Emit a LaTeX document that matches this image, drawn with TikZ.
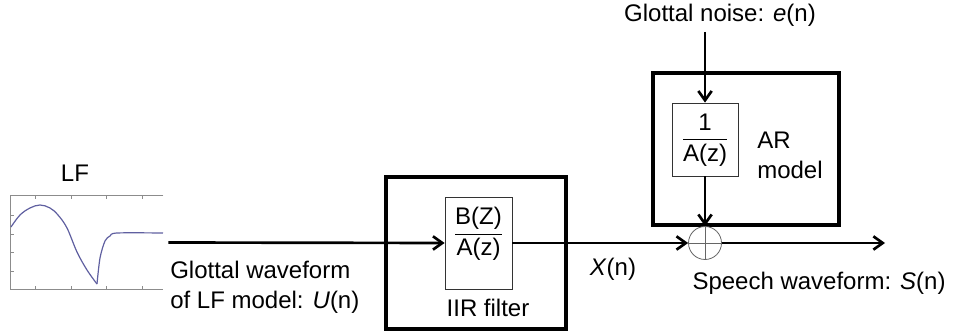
\documentclass[tikz,border=0pt]{standalone}
\usepackage{amsmath}
\usepackage{fontspec}
\setmainfont{Liberation Sans}
\usetikzlibrary{arrows.meta,calc}
\definecolor{wavec}{RGB}{95,95,160}
\begin{document}
\begin{tikzpicture}[x=0.75pt,y=-0.75pt,
  txt/.style={font=\fontsize{18}{22.5}\selectfont, inner sep=0pt},
  bigbox/.style={draw, line width=2.5pt, inner sep=0pt},
  smallbox/.style={draw=black!80, line width=0.6pt, inner sep=0pt},
  arr/.style={line width=2pt, -{Straight Barb[length=7pt,width=10pt,line width=2pt]}},
  ax/.style={draw=black!45, line width=0.6pt}]
\useasboundingbox (0,0) rectangle (956,334);
% LF plot
\node[inner sep=0pt, minimum width=114pt, minimum height=69.75pt] (plot) at (87,242.5) {};
\draw[ax] (plot.north east) -- (plot.north west) -- (plot.south west) -- (plot.south east);
\foreach \x in {35,71,106,142} {
  \draw[ax] (\x,196) -- (\x,199);
  \draw[ax] (\x,289) -- (\x,286);
}
\foreach \y in {215,234,252,271} \draw[ax] (11,\y) -- (14,\y);
\draw[wavec, line width=0.9pt] plot[smooth, tension=0.6] coordinates {(11,227) (20,215) (30,208) (40,205) (50,208) (58,215) (67,228) (77,252) (87,270) (97,284)};
\draw[wavec, line width=0.9pt] plot[smooth, tension=0.5] coordinates {(97,284) (100,258) (105,241) (110,236) (117,233) (163,233)};
\node[txt] (lf) at (75,173) {LF};
% IIR filter
\node[bigbox, minimum width=135pt, minimum height=114pt] (iir) at (476,253) {};
\node[smallbox, minimum width=50.25pt, minimum height=69pt] (iirin) at (478.5,243) {};
\node[txt] (iirfrac) at (478.5,234) {$\dfrac{\text{B(Z)}}{\text{A(z)}}$};
\node[txt] (iirlbl) at (488,308) {IIR filter};
% AR model
\node[bigbox, minimum width=139.5pt, minimum height=114pt] (ar) at (746,149) {};
\node[smallbox, minimum width=49.5pt, minimum height=54.75pt] (arin) at (705,139.5) {};
\node[txt] (arfrac) at (705,140) {$\dfrac{\text{1}}{\text{A(z)}}$};
\node[txt, anchor=west, align=left] (arlbl) at (757,155) {AR\\model};
% sum
\node[circle, draw=black!60, line width=0.6pt, minimum size=24.75pt, inner sep=0pt] (sum) at (705,243) {};
\draw[black!60, line width=0.6pt] (sum.north) -- (sum.south) (sum.west) -- (sum.east);
% texts
\node[txt] (noise) at (720,15) {Glottal noise: \textit{e}(n)};
\node[txt] (xn) at (613,269) {\textit{X}(n)};
\node[txt] (sn) at (819,283) {Speech waveform: \textit{S}(n)};
\node[txt, anchor=west, align=left] (gw) at (170,287) {Glottal waveform\\of LF model: \textit{U}(n)};
% connectors
\coordinate (ntop) at (705,32);
\coordinate (out) at (885,243);
\draw[arr] ([xshift=3.75pt]plot.east) -- (iirin.west);
\draw[arr] (iirin.east) -- (sum.west);
\draw[arr] (sum.east) -- (out);
\draw[arr] (ntop) -- (arin.north);
\draw[arr] (arin.south) -- (sum.north);
\end{tikzpicture}
\end{document}
